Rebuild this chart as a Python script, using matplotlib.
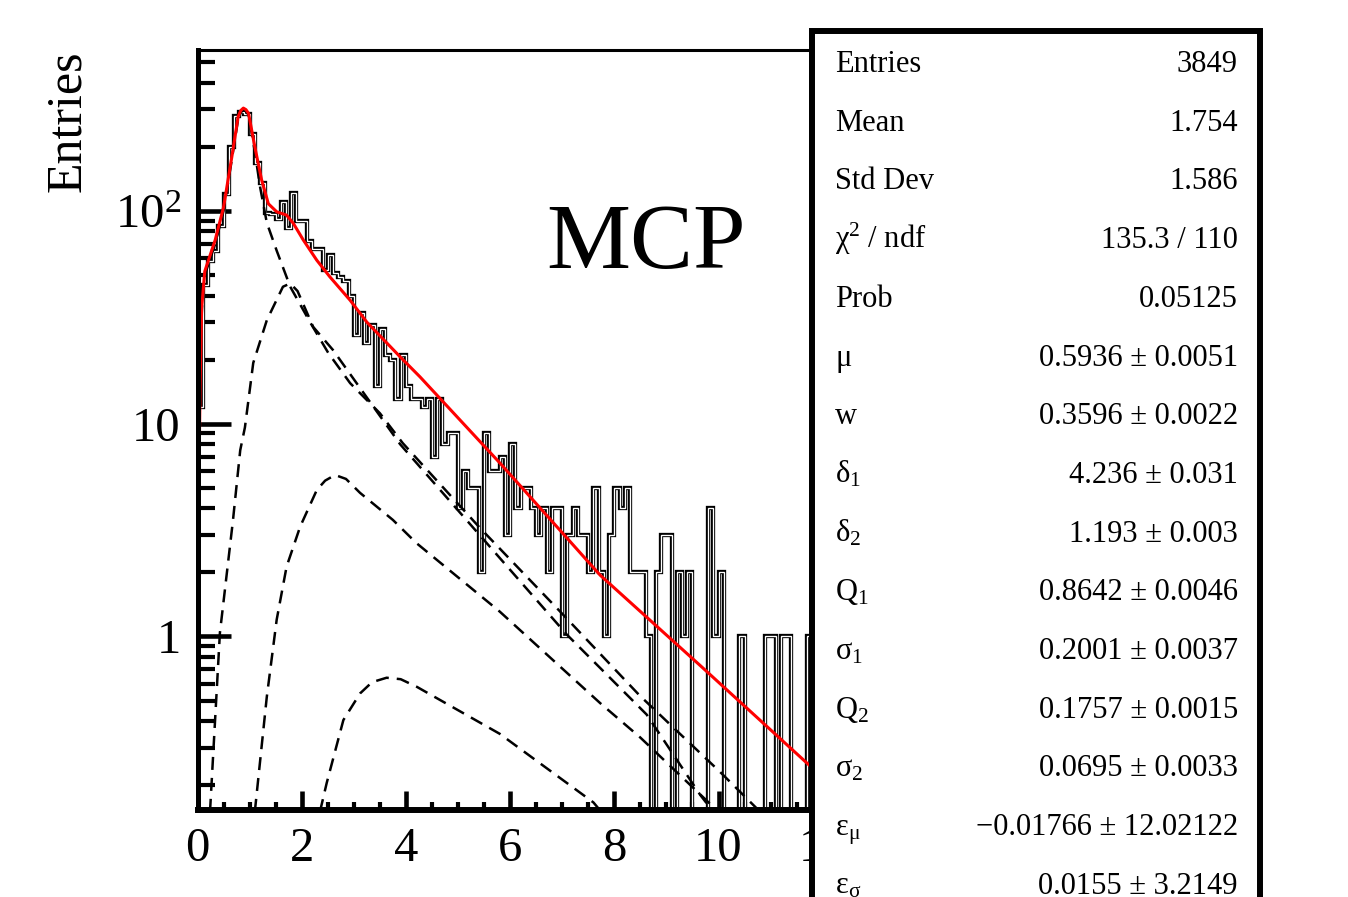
import matplotlib
matplotlib.use('Agg')
import matplotlib.pyplot as plt
import numpy as np
from matplotlib.patches import Rectangle
from matplotlib.ticker import FixedLocator, FixedFormatter, LogLocator, MultipleLocator, NullFormatter

plt.rcParams['font.family'] = ['Liberation Serif', 'DejaVu Serif']
plt.rcParams['mathtext.fontset'] = 'custom'
plt.rcParams['mathtext.rm'] = 'Liberation Serif'
plt.rcParams['mathtext.it'] = 'Liberation Serif:italic'

# Histogram: 120 bins of width 0.1 between 0 and 12
x_lo, x_hi, n_bins = 0.0, 12.0, 120
counts = [
    12, 45, 58, 65, 85, 120, 200, 280, 290, 285,
    230, 168, 135, 98, 97, 92, 110, 83, 121, 90,
    90, 72, 66, 66, 53, 62, 51, 49, 47, 40,
    26, 33, 24, 29, 15, 28, 21, 20, 13, 21,
    15, 13, 13, 12, 13, 7, 13, 8, 9, 9,
    4, 6, 5, 5, 2, 9, 6, 6, 7, 3,
    8, 4, 5, 5, 4, 3, 4, 2, 4, 4,
    1, 3, 4, 3, 3, 2, 5, 2, 1, 3,
    5, 4, 5, 2, 2, 2, 1, 0, 2, 3,
    3, 0, 2, 1, 2, 0, 0, 0, 4, 1,
    2, 0, 0, 0, 1, 0, 0, 0, 0, 1,
    1, 0, 1, 1, 0, 0, 0, 1, 0, 1,
]

# Total fit (red)
fit_x = [0.02, 0.05, 0.08, 0.14, 0.34, 0.5, 0.66, 0.78, 0.83, 0.88, 0.93, 0.98, 1.1, 1.23, 1.36,
         1.52, 1.71, 1.84, 2.03, 2.29, 2.54, 2.93, 3.25, 3.89, 4.27, 5.8, 7.73, 9.65, 11.73]
fit_y = [4, 15, 35, 52, 73, 104, 180, 277, 296, 304, 299, 287, 200, 140, 108,
         99, 95.5, 87.3, 73, 58.6, 49, 38, 30, 20.6, 16.6, 6.55, 1.94, 0.73, 0.25]

# Fit components (dashed)
comp1_x = [0.03, 0.06, 0.1, 0.14, 0.34, 0.5, 0.66, 0.78, 0.83, 0.88, 0.93, 0.98, 1.1, 1.2, 1.33,
           1.52, 1.78, 2.16, 2.51, 2.93, 3.5, 3.94, 5.42, 6.96, 8.49, 10.03, 10.8]
comp1_y = [8, 25, 42, 50, 70, 100, 175, 270, 290, 298, 294, 282, 190, 130, 88,
           65, 44, 30, 21.5, 15.5, 11.2, 8.1, 3.24, 1.31, 0.527, 0.231, 0.15]
comp2_x = [0.24, 0.43, 0.68, 0.82, 0.91, 1.07, 1.33, 1.64, 1.78, 1.92, 2.22, 2.6, 3.89, 5.8, 7.09, 8.62, 9.65, 9.9]
comp2_y = [0.15, 1.04, 3.5, 7.5, 9.6, 19.3, 30.6, 44, 45.6, 42, 28.5, 22.2, 8.0, 2.34, 1.02, 0.43, 0.18, 0.15]
comp3_x = [1.1, 1.33, 1.52, 1.71, 1.97, 2.29, 2.45, 2.64, 2.85, 3.12, 3.75, 4.2, 5.8, 7.73, 8.5, 10.0]
comp3_y = [0.15, 0.52, 1.2, 2.13, 3.28, 4.88, 5.4, 5.74, 5.5, 4.73, 3.53, 2.75, 1.31, 0.486, 0.335, 0.15]
comp4_x = [2.35, 2.48, 2.8, 3.12, 3.35, 3.63, 3.9, 4.21, 5.8, 7.6, 7.75]
comp4_y = [0.15, 0.205, 0.405, 0.54, 0.61, 0.64, 0.63, 0.58, 0.349, 0.166, 0.15]

y_ticks = [1, 10, 100]
y_tick_labels = ['1', '10', r'$\mathregular{10^{2}}$']

stat_labels = ['Entries', 'Mean', 'Std Dev', r'$\mathregular{\chi^{2}}$ / ndf', 'Prob',
               r'$\mathregular{\mu}$', 'w', r'$\mathregular{\delta_{1}}$', r'$\mathregular{\delta_{2}}$',
               r'$\mathregular{Q_{1}}$', r'$\mathregular{\sigma_{1}}$', r'$\mathregular{Q_{2}}$',
               r'$\mathregular{\sigma_{2}}$', r'$\mathregular{\varepsilon_{\mu}}$',
               r'$\mathregular{\varepsilon_{\sigma}}$']
stat_values = ['3849', '1.754', '1.586', '135.3 / 110', '0.05125',
               '0.5936 \u00b1 0.0051', '0.3596 \u00b1 0.0022', '4.236 \u00b1 0.031',
               '1.193 \u00b1 0.003', '0.8642 \u00b1 0.0046', '0.2001 \u00b1 0.0037',
               '0.1757 \u00b1 0.0015', '0.0695 \u00b1 0.0033', '\u22120.01766 \u00b1 12.02122',
               '0.0155 \u00b1 3.2149']

W, H = 1348, 897
fig = plt.figure(figsize=(W / 100, H / 100), dpi=100)
ax = fig.add_axes([197.5 / W, 1 - 810 / H, (822.7 - 197.5) / W, (810 - 50) / H])

edges = np.linspace(x_lo, x_hi, n_bins + 1)
c = np.array(counts, dtype=float)
c_draw = np.where(c > 0, c, 1e-3)  # empty bins drop below the frame
ax.stairs(c_draw, edges, color='black', lw=3.1, baseline=None, zorder=2)
ax.stairs(c_draw, edges, color='white', lw=0.95, baseline=None, zorder=2.1)

for cx, cy in [(comp1_x, comp1_y), (comp2_x, comp2_y), (comp3_x, comp3_y), (comp4_x, comp4_y)]:
    ax.plot(cx, cy, color='black', lw=1.8, dashes=(5.2, 3.2), zorder=2.2)
ax.plot(fit_x, fit_y, color='#ff0000', lw=2.2, zorder=2.3)

ax.set_yscale('log')
ax.set_xlim(x_lo, x_hi)
ax.set_ylim(0.153, 570)

ax.yaxis.set_major_locator(FixedLocator(y_ticks))
ax.yaxis.set_major_formatter(FixedFormatter(y_tick_labels))
ax.yaxis.set_minor_locator(LogLocator(base=10, subs=np.arange(2, 10), numticks=20))
ax.yaxis.set_minor_formatter(NullFormatter())
ax.xaxis.set_major_locator(MultipleLocator(2))
ax.xaxis.set_minor_locator(MultipleLocator(0.5))

ax.tick_params(axis='y', which='major', direction='in', length=24, width=3.3, labelsize=35, pad=12)
ax.tick_params(axis='y', which='minor', direction='in', length=12, width=3.0)
ax.tick_params(axis='x', which='major', direction='in', length=14, width=3.3, labelsize=35, pad=12)
ax.tick_params(axis='x', which='minor', direction='in', length=6, width=3.0)

ax.spines['left'].set_linewidth(3.6)
ax.spines['bottom'].set_linewidth(4.3)
ax.spines['top'].set_linewidth(2.2)
ax.spines['right'].set_linewidth(2.2)

fig.text(68 / W, 1 - 50 / H, 'Entries', rotation=90, ha='center', va='top', fontsize=36)
fig.text(646 / W, 1 - 268 / H, 'MCP', ha='center', va='baseline', fontsize=68)

# Stats box
box = Rectangle((812 / W, -0.05), (1260 - 812) / W, 1.05 - 31 / H, transform=fig.transFigure,
                facecolor='white', edgecolor='black', lw=4.3, zorder=5)
fig.add_artist(box)
row_base = 72
row_step = 58.7
for i, (lab, val) in enumerate(zip(stat_labels, stat_values)):
    yb = 1 - (row_base + i * row_step) / H
    fig.text(835 / W, yb, lab, ha='left', va='baseline', fontsize=22, zorder=6)
    fig.text(1238 / W, yb, val, ha='right', va='baseline', fontsize=22, zorder=6)

fig.savefig('out.png', dpi=100)
